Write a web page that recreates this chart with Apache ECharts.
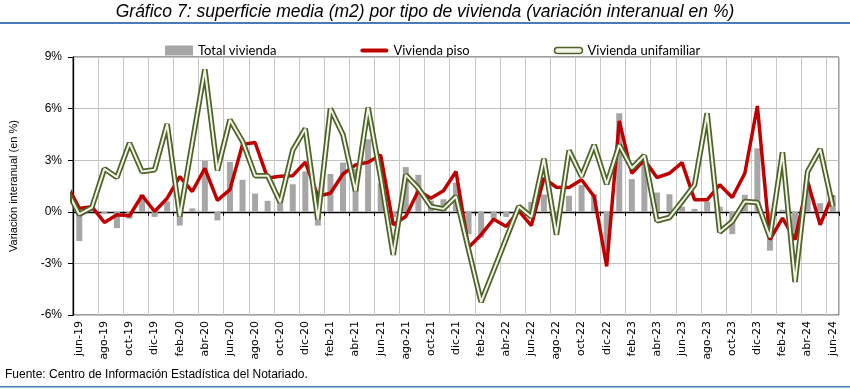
<!DOCTYPE html>
<html>
<head>
<meta charset="utf-8">
<script src="https://cdn.jsdelivr.net/npm/echarts@6/dist/echarts.min.js"></script>
<style>html,body{margin:0;padding:0;background:#fff;}#c{width:850px;height:389px;}</style>
</head>
<body>
<div id="c"></div>
<script>
// Categories (first one, may-19, lies just left of the visible axis range; only its line stub shows)
const categories = ['may-19',
  'jun-19','jul-19','ago-19','sep-19','oct-19','nov-19','dic-19',
  'ene-20','feb-20','mar-20','abr-20','may-20','jun-20','jul-20','ago-20','sep-20','oct-20','nov-20','dic-20',
  'ene-21','feb-21','mar-21','abr-21','may-21','jun-21','jul-21','ago-21','sep-21','oct-21','nov-21','dic-21',
  'ene-22','feb-22','mar-22','abr-22','may-22','jun-22','jul-22','ago-22','sep-22','oct-22','nov-22','dic-22',
  'ene-23','feb-23','mar-23','abr-23','may-23','jun-23','jul-23','ago-23','sep-23','oct-23','nov-23','dic-23',
  'ene-24','feb-24','mar-24','abr-24','may-24','jun-24'];

const totalVivienda = [null,
  -1.7, 0.2, -0.1, -0.95, -0.4, 1.0, -0.3,
  0.6, -0.8, 0.2, 2.96, -0.5, 2.9, 1.86, 1.06, 0.64, 0.6, 1.6, 2.35,
  -0.8, 2.2, 2.86, 2.5, 4.22, 1.66, -0.3, 2.6, 2.15, 0.65, 0.73, 1.7,
  -1.3, -1.5, -0.4, -0.3, 0.1, 0.58, 1.0, -0.2, 0.93, 1.55, 1.03, -2.3,
  5.73, 1.9, 2.96, 1.12, 1.02, 0.3, 0.17, 0.6, 0.3, -1.3, 0.99, 3.69,
  -2.26, 0.12, -1.5, 1.6, 0.5, 0.95];

const viviendaPiso = [1.6,
  0.2, 0.3, -0.62, -0.17, -0.23, 0.95, 0.02,
  0.79, 2.05, 1.18, 2.53, 0.66, 1.29, 3.92, 4.03, 1.96, 2.07, 2.1, 2.89,
  0.91, 1.08, 2.2, 2.73, 2.88, 3.3, -0.75, -0.27, 1.22, 0.79, 1.22, 2.34,
  -2.07, -1.33, -0.43, -0.85, 0.06, -0.8, 1.95, 1.43, 1.41, 1.86, 0.89, -3.17,
  5.28, 2.24, 3.02, 1.99, 2.24, 2.86, 0.7, 0.7, 1.57, 0.83, 2.24, 6.15,
  -1.62, -0.37, -1.62, 1.76, -0.75, 0.99];

const viviendaUnifamiliar = [1.26,
  -0.14, 0.25, 2.5, 2.0, 4.0, 2.34, 2.44,
  5.1, -0.27, 4.0, 8.28, 2.4, 5.35, 4.1, 2.1, 2.1, 0.55, 3.58, 4.83,
  -0.45, 6.0, 4.48, 1.2, 6.06, 2.0, -2.5, 2.15, 1.37, 0.31, 0.17, 0.89,
  -2.2, -5.24, -3.4, -1.55, 0.31, -0.3, 3.08, -1.33, 3.56, 2.05, 3.89, 1.6,
  3.89, 2.53, 3.27, -0.52, -0.33, 0.6, 1.57, 5.73, -1.18, -0.56, 0.6, 0.54,
  -1.49, 3.46, -4.08, 2.34, 3.64, 0.31];

const yTicks = {min: -6, max: 9, interval: 3};

const titleText = 'Gráfico 7: superficie media (m2) por tipo de vivienda (variación interanual en %)';
const sourceText = 'Fuente: Centro de Información Estadística del Notariado.';

const every2 = function (idx) { return (idx - 1) % 2 === 0; };
const firstIdx = 1, lastIdx = categories.length - 1;

const chart = echarts.init(document.getElementById('c'), null, {renderer: 'canvas'});
chart.setOption({
  animation: false,
  backgroundColor: '#fff',
  graphic: [
    {type: 'text', left: 'center', top: 3, style: {text: titleText, font: 'italic 17.5px "Liberation Sans Narrow", "Liberation Sans", Arial', fill: '#000'}},
    {type: 'rect', left: 0, top: 22, shape: {width: 850, height: 2}, style: {fill: '#4a7ab8'}},
    {type: 'text', left: 5, top: 369, style: {text: sourceText, font: '12px "Liberation Sans", Arial', fill: '#000'}},
    {type: 'rect', left: 0, top: 386, shape: {width: 850, height: 1.5}, style: {fill: '#4a7ab8'}}
  ],
  legend: {
    left: 160, top: 39, itemWidth: 28, itemHeight: 10, itemGap: 84, symbolKeepAspect: true,
    textStyle: {fontFamily: 'Lato', fontSize: 13, color: '#000'},
    data: [
      {name: 'Total vivienda', icon: 'rect'},
      {name: 'Vivienda piso', icon: 'path://M2,0 L26,0 A2,2 0 0 1 26,4 L2,4 A2,2 0 0 1 2,0 Z', itemStyle: {color: '#c00000'}},
      {name: 'Vivienda unifamiliar', icon: 'path://M3,0 L25,0 A3,3 0 0 1 25,6 L3,6 A3,3 0 0 1 3,0 Z', itemStyle: {color: '#f1f4e6', borderColor: '#4f6228', borderWidth: 1.5}}
    ]
  },
  grid: {left: 71, right: 11, top: 57, bottom: 74, show: true, borderColor: '#404040', borderWidth: 1},
  xAxis: [
    {
      type: 'category', data: categories, position: 'bottom', min: firstIdx, max: lastIdx, boundaryGap: true,
      axisLine: {show: false, onZero: false},
      axisTick: {show: false},
      axisLabel: {interval: every2, rotate: 90, margin: 6, fontFamily: 'DejaVu Sans', fontSize: 11, color: '#000'},
      splitLine: {show: true, interval: every2, lineStyle: {color: '#c8c8c8', width: 1}}
    },
    {
      type: 'category', data: categories, position: 'top', min: firstIdx, max: lastIdx, boundaryGap: true,
      axisLine: {show: true, onZero: true, lineStyle: {color: '#000', width: 1.3}},
      axisTick: {show: true, inside: true, interval: every2, length: 4, lineStyle: {color: '#000'}},
      axisLabel: {show: false},
      splitLine: {show: false}
    }
  ],
  yAxis: {
    type: 'value', min: yTicks.min, max: yTicks.max, interval: yTicks.interval,
    name: 'Variación interanual (en %)', nameLocation: 'middle', nameRotate: 90, nameGap: 54,
    nameTextStyle: {fontFamily: 'Liberation Sans', fontSize: 11, color: '#000'},
    axisLine: {show: true, lineStyle: {color: '#000', width: 1.3}},
    axisTick: {show: true, length: 5, lineStyle: {color: '#000'}},
    axisLabel: {formatter: '{value}%', fontFamily: 'Liberation Sans', fontSize: 12, color: '#000', margin: 11},
    splitLine: {show: true, lineStyle: {color: '#c0c0c0', width: 1}}
  },
  series: [
    {name: 'Total vivienda', type: 'bar', data: totalVivienda, barWidth: 6, itemStyle: {color: '#a6a6a6'}, z: 1},
    {name: 'Vivienda piso', type: 'line', data: viviendaPiso, symbol: 'none', lineStyle: {color: '#c00000', width: 3.5}, itemStyle: {color: '#c00000'}, z: 3},
    {name: 'Vivienda unifamiliar', type: 'line', data: viviendaUnifamiliar, symbol: 'none', lineStyle: {color: '#4f6228', width: 5.5}, itemStyle: {color: '#4f6228'}, z: 4},
    {name: 'Vivienda unifamiliar', type: 'line', data: viviendaUnifamiliar, symbol: 'none', lineStyle: {color: '#f1f4e6', width: 2}, itemStyle: {color: '#f1f4e6'}, z: 5}
  ]
});
</script>
</body>
</html>
